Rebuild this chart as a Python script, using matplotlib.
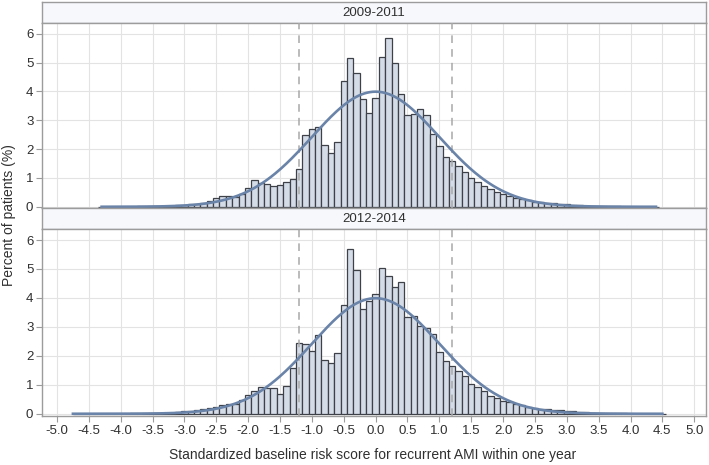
import numpy as np
import matplotlib
matplotlib.use("Agg")
import matplotlib.pyplot as plt

plt.rcParams['font.family'] = ['Liberation Sans', 'DejaVu Sans']

# ---------------- data ----------------
PANEL_TITLES = ["2009-2011", "2012-2014"]
BIN_WIDTH = 0.1

TOP_START = -4.3
TOP_PCT = [0.003, 0.003, 0.004, 0.005, 0.006, 0.008,
           0.01, 0.012, 0.015, 0.02, 0.025, 0.035, 0.05, 0.06, 0.08, 0.10,
           0.14, 0.21, 0.32, 0.36, 0.36, 0.33, 0.44, 0.66, 0.94, 0.84,
           0.80, 0.72, 0.75, 0.86, 0.95, 1.32, 2.50, 2.68, 2.75, 2.14,
           1.86, 2.25, 4.37, 5.16, 4.65, 3.73, 3.26, 3.77, 5.20, 5.85,
           4.99, 3.90, 3.19, 3.23, 3.40, 3.17, 2.51, 2.11, 1.71, 1.59,
           1.41, 1.22, 1.01, 0.87, 0.72, 0.60, 0.52, 0.43, 0.36, 0.31,
           0.27, 0.23, 0.18, 0.16, 0.14, 0.12, 0.10, 0.08, 0.065, 0.05,
           0.04, 0.03, 0.025, 0.02, 0.015, 0.01, 0.008, 0.006, 0.005, 0.004,
           0.003, 0.002]

BOT_START = -4.7
BOT_PCT = [0.002, 0.002, 0.003, 0.003, 0.004, 0.005, 0.006, 0.007, 0.008, 0.01,
           0.012, 0.015, 0.02, 0.025, 0.03, 0.04, 0.06, 0.08, 0.10, 0.13,
           0.15, 0.20, 0.25, 0.31, 0.32, 0.34, 0.49, 0.64, 0.77, 0.92,
           0.89, 0.89, 0.68, 0.97, 1.58, 2.46, 2.42, 2.17, 2.71, 1.84,
           1.76, 2.09, 3.74, 5.70, 4.98, 3.62, 3.89, 4.14, 5.02, 4.75,
           4.38, 4.56, 3.34, 3.39, 3.02, 2.96, 2.77, 2.12, 1.81, 1.66,
           1.46, 1.31, 1.04, 0.91, 0.77, 0.63, 0.54, 0.45, 0.39, 0.33,
           0.29, 0.24, 0.21, 0.18, 0.16, 0.14, 0.12, 0.10, 0.08, 0.06,
           0.05, 0.04, 0.03, 0.02, 0.015, 0.012, 0.01, 0.008, 0.006, 0.005,
           0.004, 0.003, 0.002]

# normal density overlay (standardized score: mean 0, sd 1)
NORM_MU = 0.0
NORM_SD = 1.0
TOP_CURVE_RANGE = (-4.3, 4.4)
BOT_CURVE_RANGE = (-4.75, 4.5)
REF_LINES = [-1.2, 1.2]

X_TICKS = [-5.0, -4.5, -4.0, -3.5, -3.0, -2.5, -2.0, -1.5, -1.0, -0.5,
           0.0, 0.5, 1.0, 1.5, 2.0, 2.5, 3.0, 3.5, 4.0, 4.5, 5.0]
Y_TICKS = [0, 1, 2, 3, 4, 5, 6]
X_LABEL = "Standardized baseline risk score for recurrent AMI within one year"
Y_LABEL = "Percent of patients (%)"

# ---------------- style ----------------
W, H = 709, 465
BAR_FACE = "#D4DCE8"
BAR_EDGE = "#3E4248"
CURVE = "#6A83A8"
GRID = "#E3E3E3"
SPINE = "#9C9C9C"
HEADER_FACE = "#F6F8FB"
TEXT = "#303030"

fig = plt.figure(figsize=(W / 100, H / 100), dpi=100)


def fig_rect(x0, y0, x1, y1):
    return [x0 / W, 1 - y1 / H, (x1 - x0) / W, (y1 - y0) / H]


LEFT, RIGHT = 41.7, 705.7
XLIM = (-5.24, 5.18)

panels = [
    dict(title=PANEL_TITLES[0], head=(2.0, 22.7), body=(22.7, 208.5),
         start=TOP_START, pct=TOP_PCT, crange=TOP_CURVE_RANGE),
    dict(title=PANEL_TITLES[1], head=(208.5, 229.0), body=(229.0, 415.5),
         start=BOT_START, pct=BOT_PCT, crange=BOT_CURVE_RANGE),
]

for i, p in enumerate(panels):
    # header strip
    hax = fig.add_axes(fig_rect(LEFT, p["head"][0], RIGHT, p["head"][1]))
    hax.set_facecolor(HEADER_FACE)
    hax.set_xticks([])
    hax.set_yticks([])
    for s in hax.spines.values():
        s.set_color(SPINE)
        s.set_linewidth(1.0)
    hax.text(0.5, 0.47, p["title"], ha="center", va="center",
             fontsize=9.5, color=TEXT, transform=hax.transAxes)

    ax = fig.add_axes(fig_rect(LEFT, p["body"][0], RIGHT, p["body"][1]))
    pct = np.array(p["pct"])
    centers = p["start"] + BIN_WIDTH * np.arange(len(pct))
    ax.bar(centers, pct, width=BIN_WIDTH, color=BAR_FACE,
           edgecolor=BAR_EDGE, linewidth=0.9, zorder=2)
    xs = np.linspace(p["crange"][0], p["crange"][1], 400)
    dens = 100 * BIN_WIDTH * np.exp(-0.5 * ((xs - NORM_MU) / NORM_SD) ** 2) / (NORM_SD * np.sqrt(2 * np.pi))
    ax.plot(xs, dens, color=CURVE, linewidth=1.9, zorder=4)
    for r in REF_LINES:
        ax.axvline(r, color="#A8A8A8", linestyle=(0, (5, 4)), linewidth=1.1, zorder=3)

    ax.set_xlim(*XLIM)
    ax.set_ylim(-0.06, 6.38)
    ax.set_xticks(X_TICKS)
    ax.set_yticks(Y_TICKS)
    ax.grid(True, color=GRID, linewidth=0.8, zorder=0)
    ax.set_axisbelow(True)
    for s in ax.spines.values():
        s.set_color(SPINE)
        s.set_linewidth(1.0)
    ax.tick_params(axis="y", colors=SPINE, labelcolor=TEXT, labelsize=9.5,
                   length=4, width=0.8, pad=2)
    ax.set_yticklabels([str(t) for t in Y_TICKS])
    if i == 0:
        ax.tick_params(axis="x", length=0, labelbottom=False)
    else:
        ax.tick_params(axis="x", colors=SPINE, labelcolor=TEXT, labelsize=9.5,
                       length=4, width=0.8, pad=3)
        ax.set_xticklabels([f"{t:.1f}" for t in X_TICKS])

fig.text(373 / W, 1 - 455 / H, X_LABEL, ha="center", va="center",
         fontsize=10, color=TEXT)
fig.text(9 / W, 1 - 215 / H, Y_LABEL, ha="center", va="center",
         rotation=90, fontsize=10, color=TEXT)

fig.savefig("out.png", dpi=100)
